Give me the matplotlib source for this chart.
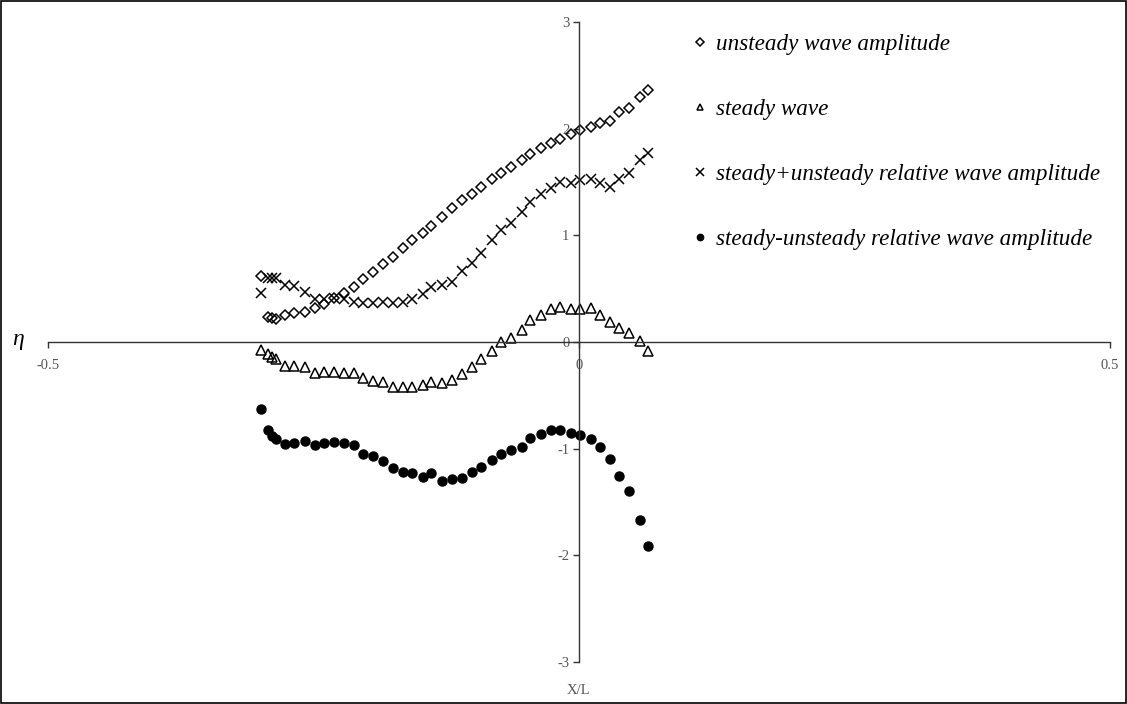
import matplotlib
matplotlib.use("Agg")
import matplotlib.pyplot as plt
from matplotlib.patches import Rectangle
from matplotlib.font_manager import FontProperties

# measurement positions X/L (shared by all series)
x_pos = [-0.299, -0.293, -0.289, -0.285, -0.277, -0.268, -0.258, -0.249, -0.240, -0.231,
         -0.221, -0.212, -0.203, -0.194, -0.185, -0.175, -0.166, -0.157, -0.147, -0.139,
         -0.129, -0.120, -0.110, -0.101, -0.092, -0.082, -0.073, -0.064, -0.054, -0.046,
         -0.036, -0.026, -0.018, -0.008, 0.001, 0.011, 0.020, 0.029, 0.038, 0.047,
         0.057, 0.065]

unsteady = [0.619, 0.237, 0.222, 0.212, 0.250, 0.269, 0.284, 0.316, 0.356, 0.410,
            0.462, 0.518, 0.591, 0.659, 0.728, 0.800, 0.884, 0.956, 1.025, 1.090,
            1.175, 1.253, 1.331, 1.388, 1.456, 1.525, 1.582, 1.638, 1.706, 1.762,
            1.816, 1.863, 1.903, 1.950, 1.988, 2.013, 2.056, 2.075, 2.159, 2.197,
            2.300, 2.362]

steady = [-0.075, -0.115, -0.143, -0.162, -0.225, -0.225, -0.237, -0.288, -0.278, -0.278,
          -0.293, -0.293, -0.340, -0.366, -0.372, -0.419, -0.419, -0.419, -0.403, -0.372,
          -0.387, -0.356, -0.303, -0.237, -0.162, -0.084, 0.003, 0.040, 0.112, 0.206,
          0.253, 0.307, 0.325, 0.307, 0.307, 0.316, 0.253, 0.185, 0.128, 0.087,
          0.012, -0.082]

plus_rel = [0.462, 0.597, 0.597, 0.603, 0.530, 0.525, 0.466, 0.400, 0.405, 0.410,
            0.400, 0.378, 0.369, 0.369, 0.378, 0.363, 0.378, 0.400, 0.453, 0.515,
            0.534, 0.565, 0.670, 0.737, 0.837, 0.953, 1.047, 1.115, 1.217, 1.308,
            1.387, 1.441, 1.503, 1.488, 1.519, 1.532, 1.490, 1.455, 1.525, 1.587,
            1.706, 1.769]

minus_rel = [-0.631, -0.825, -0.878, -0.912, -0.959, -0.950, -0.925, -0.966, -0.950, -0.937,
             -0.950, -0.966, -1.050, -1.066, -1.116, -1.178, -1.216, -1.231, -1.263, -1.231,
             -1.300, -1.287, -1.272, -1.216, -1.175, -1.106, -1.050, -1.010, -0.982, -0.897,
             -0.865, -0.828, -0.828, -0.853, -0.869, -0.912, -0.982, -1.094, -1.259, -1.397,
             -1.666, -1.915]

labels = ["unsteady wave amplitude", "steady wave",
          "steady+unsteady relative wave amplitude",
          "steady-unsteady relative wave amplitude"]

plt.rcParams['font.family'] = ['Liberation Serif', 'DejaVu Serif']
plt.rcParams['axes.unicode_minus'] = False

fig = plt.figure(figsize=(11.27, 7.04), dpi=100)
ax = fig.add_axes([48/1127, 1-662/704, 1062/1127, 640/704])

ax.plot(x_pos, unsteady, 'D', ms=5.4, mfc='none', mec='black', mew=1.1, ls='none', label=labels[0])
ax.plot(x_pos, steady, '^', ms=7, mfc='none', mec='black', mew=1.1, ls='none', label=labels[1])
ax.plot(x_pos, plus_rel, 'x', ms=7.5, mec='black', mew=1.1, ls='none', label=labels[2])
ax.plot(x_pos, minus_rel, 'o', ms=6.5, mfc='black', mec='black', ls='none', label=labels[3])

ax.set_xlim(-0.5, 0.5)
ax.set_ylim(-3, 3)
ax.set_xticks([-0.5, 0, 0.5])
ax.set_xticklabels(['-0.5', '0', '0.5'])
ax.set_yticks([-3, -2, -1, 0, 1, 2, 3])

for side in ['top', 'right']:
    ax.spines[side].set_visible(False)
ax.spines['left'].set_position('zero')
ax.spines['bottom'].set_position('zero')
for side in ['left', 'bottom']:
    ax.spines[side].set_color('#333333')
    ax.spines[side].set_linewidth(1.0)

ax.tick_params(axis='both', direction='out', length=4, width=1, color='#333333',
               labelsize=10.5, labelcolor='#555555')
ax.tick_params(axis='x', pad=8)
ax.tick_params(axis='y', pad=3)

fig.text(18/1127, 1-340/704, 'η', fontsize=17, style='italic', ha='center', va='center')
fig.text(578/1127, 1-690/704, 'X/L', fontsize=10.5, color='#555555', ha='center', va='center')

leg = ax.legend(loc='upper left', bbox_to_anchor=(694/1127, 1-34/704),
                bbox_transform=fig.transFigure, frameon=False,
                prop=FontProperties(family='Liberation Serif', style='italic', size=16.7),
                labelspacing=1.88, handlelength=0.55, handletextpad=0.4,
                markerscale=0.7, borderaxespad=0, borderpad=0)

fig.patches.append(Rectangle((0.001, 0.001), 0.998, 0.998, transform=fig.transFigure,
                             fill=False, ec='black', lw=1.2))

fig.savefig('out.png', dpi=100)
